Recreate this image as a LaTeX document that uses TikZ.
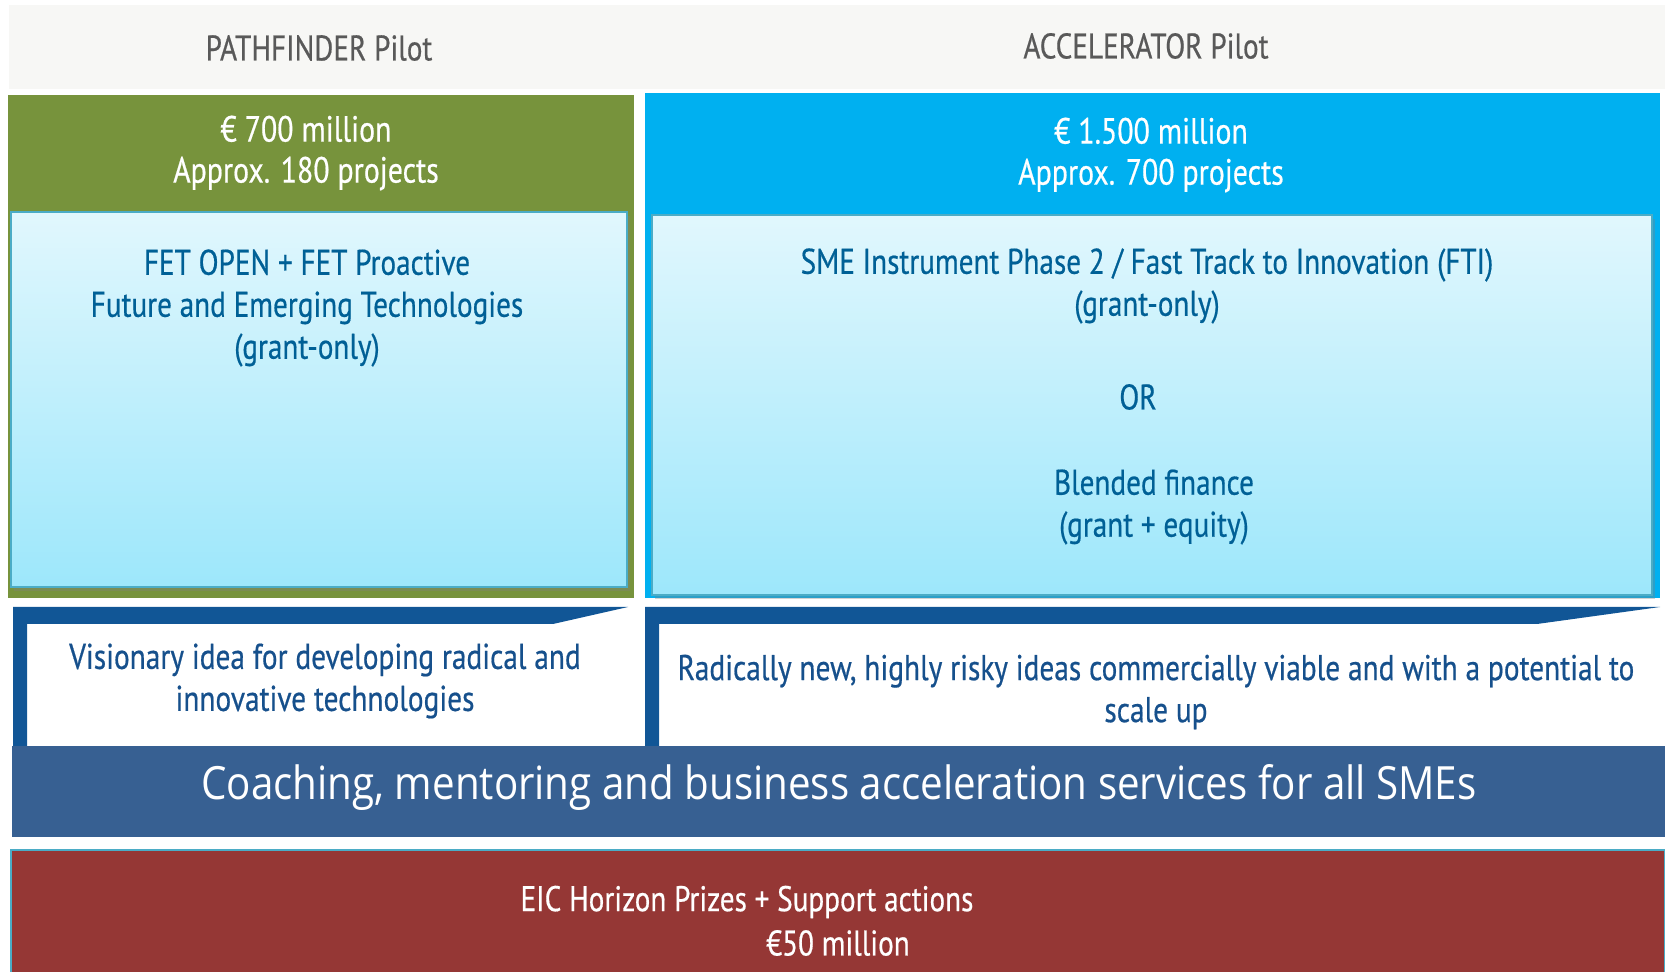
\documentclass[tikz,border=0pt]{standalone}
\usepackage{fontspec}
\setmainfont{PT Sans}[FakeStretch=0.82,FakeBold=0.5]
\newfontfamily\coachfont{Open Sans}[FakeStretch=0.88]
\usetikzlibrary{positioning,shadows}

\definecolor{headgrey}{RGB}{247,247,245}
\definecolor{headtext}{RGB}{89,89,89}
\definecolor{pathgreen}{RGB}{119,147,60}
\definecolor{accblue}{RGB}{0,176,240}
\definecolor{innertop}{RGB}{225,247,253}
\definecolor{innerbot}{RGB}{157,231,251}
\definecolor{innerline}{RGB}{75,172,198}
\definecolor{innertext}{RGB}{0,96,150}
\definecolor{tabblue}{RGB}{17,86,150}
\definecolor{tabtext}{RGB}{22,80,140}
\definecolor{coachblue}{RGB}{55,96,146}
\definecolor{prizered}{RGB}{149,55,53}

\begin{document}
\begin{tikzpicture}[x=0.5pt,y=-0.5pt,
	box/.style={rectangle,anchor=north west,inner sep=0pt,outer sep=0pt},
	inner/.style={box,top color=innertop,bottom color=innerbot,draw=innerline,line width=1.2pt,drop shadow={opacity=0.35,shadow xshift=1.5pt,shadow yshift=-2pt}},
	headline/.style={text=headtext,font=\fontsize{17.8}{19}\selectfont},
	fund/.style={text=white,align=center,font=\fontsize{18.2}{20.5}\selectfont},
	fet/.style={text=innertext,align=center,font=\fontsize{17.8}{21}\selectfont},
	tabline/.style={text=tabtext,align=center,font=\fontsize{17.9}{21}\selectfont},
	tab/.style={fill=tabblue},
	prize/.style={text=white,font=\fontsize{17.8}{18}\selectfont}]

	\useasboundingbox (0,0) rectangle (1665,972);

	% pilot titles
	\node[box,fill=headgrey,minimum width=828pt,minimum height=42pt] (header-bar) at (9,5) {};
	\node[headline] (title-pathfinder) at (319,48) {PATHFINDER Pilot};
	\node[headline] (title-accelerator) at (1146,46) {ACCELERATOR Pilot};

	% pathfinder column
	\node[box,fill=pathgreen,minimum width=313pt,minimum height=251.5pt] (box-pathfinder) at (8,95) {};
	\node[fund] (fund-pathfinder) at (306,153) {€ 700 million\\Approx. 180 projects};
	\node[inner,minimum width=308pt,minimum height=187.5pt] (inner-pathfinder) at (11,212) {};
	\node[fet] (fet-pathfinder) at (307,308) {FET OPEN + FET Proactive\\Future and Emerging Technologies\\(grant-only)};

	% accelerator column
	\node[box,fill=accblue,minimum width=507.5pt,minimum height=252.5pt] (box-accelerator) at (645,93) {};
	\node[fund] (fund-accelerator) at (1151,155) {€ 1.500 million\\Approx. 700 projects};
	\node[inner,minimum width=500pt,minimum height=190pt] (inner-accelerator) at (652,215) {};
	\node[fet] (sme-accelerator) at (1147,286) {SME Instrument Phase 2 / Fast Track to Innovation (FTI)\\(grant-only)};
	\node[fet] (or-accelerator) at (1138,397) {OR};
	\node[fet] (blended-accelerator) at (1154,507) {Blended finance\\(grant + equity)};

	% idea tabs
	\fill[tab] (13,607) -- (628,607) -- (553,624) -- (27,624) -- (27,746) -- (13,746) -- cycle;
	\node[tabline] (idea-pathfinder) at (325,681) {Visionary idea for developing radical and\\innovative technologies};
	\fill[tab] (645,607) -- (1660,607) -- (1537,624) -- (659,624) -- (659,746) -- (645,746) -- cycle;
	\node[tabline] (idea-accelerator) at (1156,692) {Radically new, highly risky ideas commercially viable and with a potential to\\scale up};

	% coaching bar
	\node[box,fill=coachblue,minimum width=826.5pt,minimum height=45.5pt] (coach-bar) at (12,746) {};
	\node[text=white,font=\coachfont\fontsize{22.9}{24}\selectfont] (coach-text) at (839,787) {Coaching, mentoring and business acceleration services for all SMEs};

	% prizes
	\node[box,fill=prizered,draw=innerline,line width=1pt,minimum width=827pt,minimum height=65pt] (prize-box) at (11,850) {};
	\node[prize] (prize-title) at (747,902) {EIC Horizon Prizes + Support actions};
	\node[prize] (prize-amount) at (838,943) {€50 million};

\end{tikzpicture}
\end{document}
